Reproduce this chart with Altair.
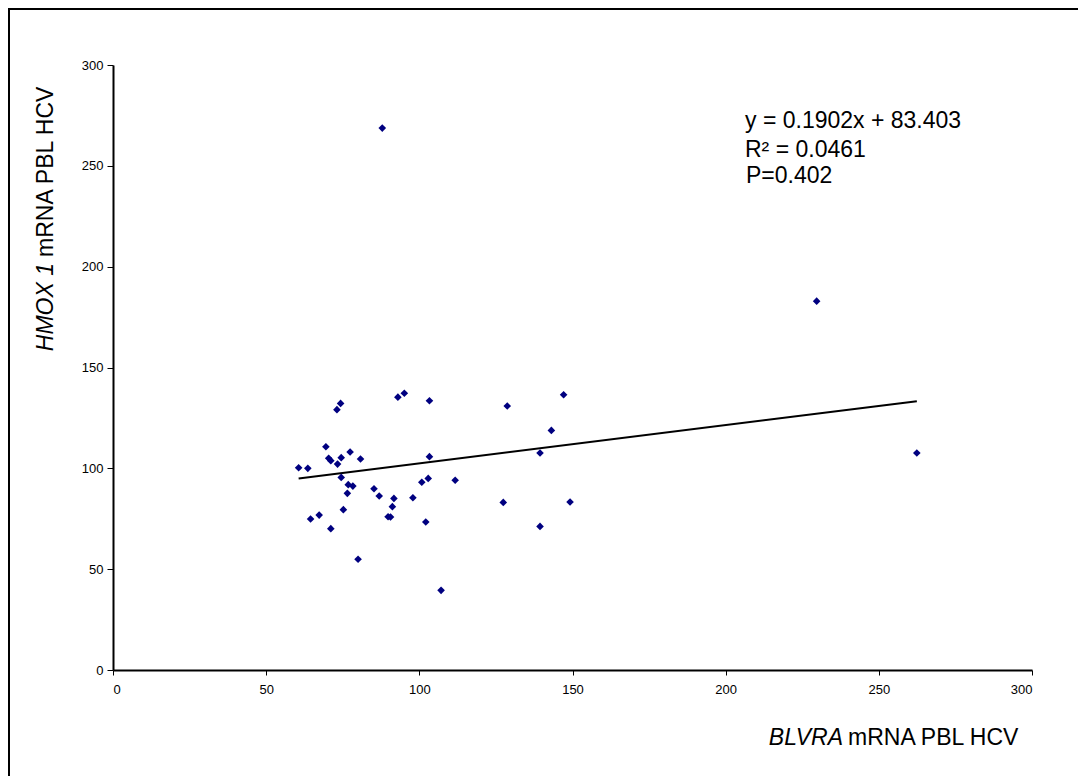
import altair as alt
import pandas as pd

# BLVRA mRNA (x) and HMOX 1 mRNA (y) values
blvra = [60.6, 63.6, 69.5, 70.4, 71.1, 73.3, 74.5, 77.4, 80.8, 73.1, 74.3, 93.0,
         95.1, 103.3, 103.3, 74.5, 76.8, 78.3, 76.5, 75.2, 64.5, 67.3, 71.1, 80.0,
         85.2, 86.9, 91.7, 91.2, 89.8, 90.6, 102.1, 97.9, 100.8, 102.9, 111.7, 87.9,
         229.7, 262.4, 128.7, 147.1, 143.1, 139.4, 127.4, 149.2, 139.4, 107.1]
hmox1 = [100.3, 100.0, 110.7, 105.0, 103.8, 102.1, 105.3, 108.1, 104.6, 129.1, 132.2, 135.3,
         137.2, 133.5, 105.8, 95.5, 91.9, 91.2, 87.6, 79.5, 74.9, 76.8, 70.1, 54.9,
         89.9, 86.3, 85.1, 81.0, 76.0, 75.9, 73.4, 85.4, 93.1, 95.0, 94.1, 268.7,
         182.9, 107.6, 130.9, 136.5, 118.8, 107.6, 83.1, 83.3, 71.2, 39.5]

slope = 0.1902
intercept = 83.403
tick_values = [0, 50, 100, 150, 200, 250, 300]
annot_lines = ["y = 0.1902x + 83.403", "R\u00b2 = 0.0461", "P=0.402"]

FONT = "Liberation Sans"
W, H = 919, 605

pts = pd.DataFrame({"x": blvra, "y": hmox1})
xmin, xmax = min(blvra), max(blvra)
trend = pd.DataFrame({"x": [xmin, xmax], "y": [slope * xmin + intercept, slope * xmax + intercept]})

xs = alt.Scale(domain=[0, 300], nice=False, zero=True)
ys = alt.Scale(domain=[0, 300], nice=False, zero=True)

xaxis = alt.Axis(values=tick_values, title=None, grid=False, domainColor="black", domainWidth=2,
                 tickColor="black", tickSize=5, tickWidth=1, labelFont=FONT, labelFontSize=13,
                 labelColor="black", labelPadding=8)
yaxis = alt.Axis(values=tick_values, title=None, grid=False, domainColor="black", domainWidth=2,
                 tickColor="black", tickSize=6, tickWidth=1, labelFont=FONT, labelFontSize=13,
                 labelColor="black", labelPadding=4)

points = alt.Chart(pts).mark_point(shape="diamond", filled=True, size=58, color="#000080", opacity=1).encode(
    x=alt.X("x:Q", scale=xs, axis=xaxis),
    y=alt.Y("y:Q", scale=ys, axis=yaxis),
)

line = alt.Chart(trend).mark_line(color="black", strokeWidth=2).encode(
    x=alt.X("x:Q", scale=xs),
    y=alt.Y("y:Q", scale=ys),
)

border = alt.Chart(pd.DataFrame({"a": [0]})).mark_rect(
    fillOpacity=0, stroke="black", strokeWidth=2
).encode(x=alt.value(-104), x2=alt.value(975), y=alt.value(-56), y2=alt.value(720))


def txt(s, x, y, size=23, italic=False, align="left", angle=0, baseline="alphabetic"):
    return alt.Chart(pd.DataFrame({"t": [s]})).mark_text(
        font=FONT, fontSize=size, fontStyle="italic" if italic else "normal",
        align=align, baseline=baseline, angle=angle, color="black"
    ).encode(x=alt.value(x), y=alt.value(y), text="t:N")


layers = [border, line, points]
# annotation
layers.append(txt(annot_lines[0], 632, 63))
layers.append(txt(annot_lines[1], 632, 92))
layers.append(txt(annot_lines[2], 633, 118))
# x title
layers.append(txt("BLVRA", 730, 680, italic=True, align="right"))
layers.append(txt("mRNA PBL HCV", 735, 680, align="left"))
# y title (rotated)
layers.append(txt("HMOX 1", -60, 198, italic=True, align="right", angle=270, baseline="alphabetic"))
layers.append(txt("mRNA PBL HCV", -60, 192, align="left", angle=270, baseline="alphabetic"))

chart = alt.layer(*layers).properties(
    width=W, height=H,
    autosize=alt.AutoSizeParams(type="none"),
    padding={"left": 113, "top": 65, "right": 46, "bottom": 106},
    background="white",
).configure_view(stroke=None)

chart.save("out.html", embed_options={"renderer": "svg", "actions": False})
